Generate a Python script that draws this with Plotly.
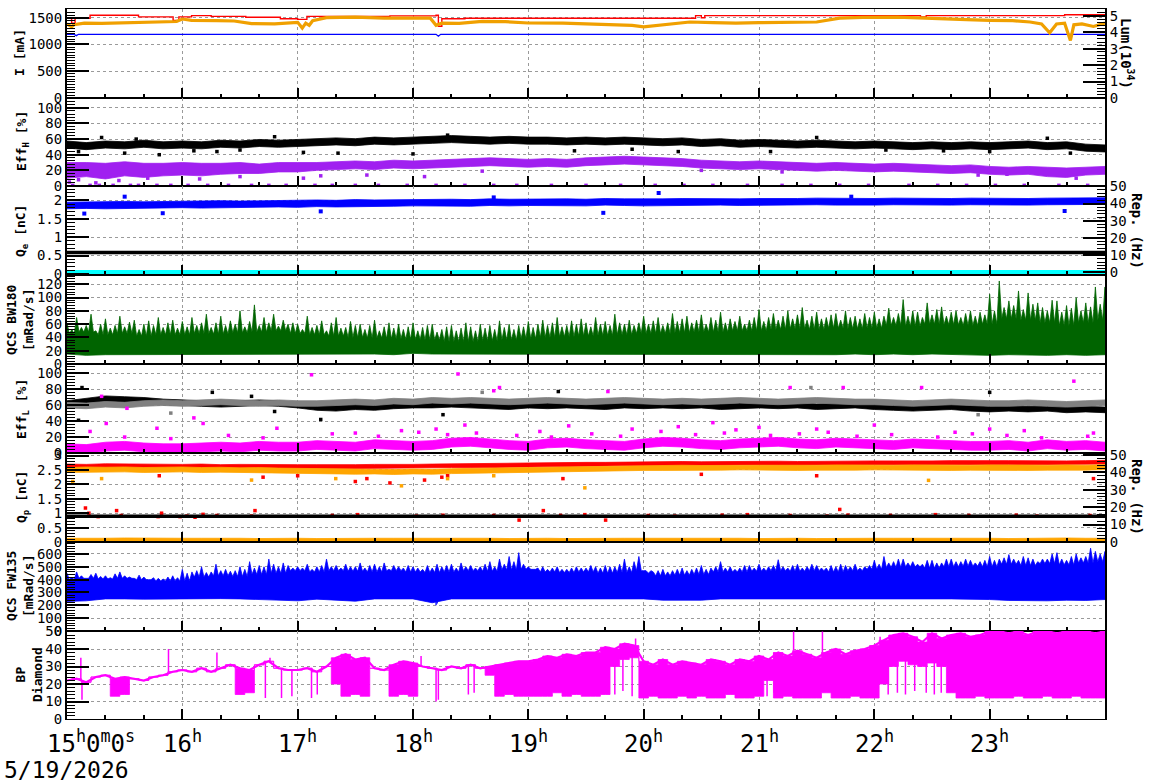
import plotly.graph_objects as go

# ---------------- time grids (hours of 5/19/2026) ----------------
T10 = [15 + i / 6 for i in range(55)]      # 10-minute samples 15:00 .. 24:00
T5 = [15 + j / 12 for j in range(109)]     # 5-minute samples
T25 = [15 + k / 24 for k in range(217)]    # 2.5-minute samples

HOUR_TICKS = [15, 16, 17, 18, 19, 20, 21, 22, 23]
HOUR_LABELS = ["15<sup>h</sup>0<sup>m</sup>0<sup>s</sup>", "16<sup>h</sup>", "17<sup>h</sup>",
               "18<sup>h</sup>", "19<sup>h</sup>", "20<sup>h</sup>", "21<sup>h</sup>",
               "22<sup>h</sup>", "23<sup>h</sup>"]
DATE_LABEL = "5/19/2026"

# ---------------- panel 1 : beam currents [mA] and luminosity ----------------
ler_t = [15.0, 15.04, 15.07, 15.2, 15.62, 15.92, 15.97, 16.08, 16.25, 16.55, 16.85, 17.0, 17.08,
         17.8, 18.2, 18.22, 18.25, 18.45, 20.45, 20.5, 20.53, 22.4, 22.45, 23.65, 24.0]
ler_i = [1495, 1400, 1490, 1545, 1515, 1450, 1515, 1540, 1525, 1510, 1480, 1470, 1525,
         1535, 1545, 1340, 1480, 1490, 1540, 1500, 1540, 1515, 1540, 1555, 1555]
her_t = [15.0, 15.06, 15.08, 15.1, 18.2, 18.22, 18.24, 24.0]
her_i = [1190, 1190, 1165, 1190, 1190, 1155, 1190, 1190]
lum_t = [15.0, 15.04, 15.06, 15.15, 15.3, 15.5, 15.65, 15.8, 15.95, 16.0, 16.08, 16.3, 16.45, 16.6,
         16.8, 17.0, 17.04, 17.07, 17.1, 17.13, 17.25, 17.5, 17.75, 18.0, 18.15, 18.2, 18.25, 18.4,
         18.6, 18.8, 19.0, 19.3, 19.6, 19.9, 20.0, 20.2, 20.4, 20.6, 20.8, 21.0, 21.3, 21.5, 21.7,
         21.9, 22.2, 22.5, 22.8, 23.0, 23.2, 23.35, 23.45, 23.52, 23.58, 23.65, 23.7, 23.73, 23.8,
         23.9, 24.0]
lum_v = [4.5, 4.33, 4.45, 4.55, 4.54, 4.56, 4.62, 4.6, 4.65, 4.8, 4.72, 4.7, 4.68, 4.52,
         4.5, 4.6, 4.25, 4.55, 4.42, 4.7, 4.88, 4.92, 4.85, 4.86, 4.85, 4.42, 4.55, 4.54,
         4.66, 4.64, 4.56, 4.55, 4.47, 4.42, 4.33, 4.46, 4.62, 4.58, 4.55, 4.58, 4.6, 4.62, 4.85,
         4.9, 4.92, 4.82, 4.76, 4.72, 4.7, 4.62, 4.5, 3.96, 4.5, 4.55, 3.5, 4.45, 4.5,
         4.35, 4.55]

# ---------------- panel 2 : Eff_H [%] (10-min centres) ----------------
effh_black = [53, 51, 53, 52, 54, 52, 53,
              52, 54, 53, 55, 54, 55,
              56, 57, 56, 58, 57, 58,
              59, 60, 59, 58, 59, 58,
              58, 57, 58, 57, 58, 57,
              56, 57, 55, 56, 54, 55,
              54, 53, 54, 53, 52, 53,
              52, 51, 52, 51, 52, 51,
              52, 53, 51, 52, 49, 48]
effh_black_hw = 4.5
effh_purple = [20, 21, 19, 22, 20, 21, 22,
               21, 22, 23, 22, 24, 24,
               25, 26, 27, 26, 28, 27,
               28, 29, 30, 31, 30, 29,
               30, 29, 31, 32, 33, 32,
               31, 30, 28, 27, 26, 27,
               26, 25, 24, 25, 24, 23,
               24, 23, 22, 21, 22, 20,
               19, 20, 18, 17, 19, 20]
effh_purple_hw = [10, 9, 10, 9, 9, 8, 8,
                  8, 7, 7, 6, 6, 6,
                  5, 5, 5, 5, 5, 5,
                  5, 5, 5, 5, 5, 5,
                  5, 5, 5, 5, 5, 5,
                  5, 5, 5, 5, 5, 5,
                  5, 5, 5, 5, 5, 5,
                  5, 5, 5, 5, 5, 5,
                  5, 5, 6, 6, 5, 5]
effh_black_out_t = [15.1, 15.3, 15.5, 15.8, 16.1, 16.3, 16.8, 17.05, 17.35, 18.0, 18.3, 19.4,
                    20.3, 21.1, 21.5, 22.6, 23.0, 23.5, 23.7, 15.6, 16.5, 19.9, 22.1]
effh_black_out_v = [44, 62, 42, 40, 45, 44, 63, 43, 42, 41, 65, 45,
                    44, 44, 62, 45, 44, 61, 42, 60, 46, 47, 46]
effh_purple_zero_t = [15.05, 15.2, 15.28, 15.4, 15.55, 15.62, 15.78, 15.9, 16.05, 16.22, 16.4,
                      16.6, 16.75, 16.9, 17.15, 17.3, 17.5, 17.7, 17.95, 18.2, 18.45, 18.7,
                      18.9, 19.2, 19.5, 19.8, 20.1, 20.35, 20.6, 20.9, 21.2, 21.45, 21.7,
                      21.95, 22.3, 22.55, 22.8, 23.05, 23.3, 23.6, 23.85]
effh_purple_out_t = [15.02, 15.1, 15.25, 15.45, 15.7, 16.15, 16.5, 17.05, 17.2, 17.6, 18.1,
                     18.6, 20.5, 21.2, 22.9, 23.15, 23.75]
effh_purple_out_v = [5, 8, 4, 7, 10, 9, 12, 10, 13, 14, 12, 19, 20, 18, 14, 15, 10]

# ---------------- panel 3 : Q_e [nC] and rep. rate ----------------
qe_blue = [1.86, 1.87, 1.86, 1.88, 1.87, 1.88, 1.89,
           1.88, 1.90, 1.89, 1.90, 1.91, 1.90,
           1.92, 1.91, 1.93, 1.92, 1.93, 1.94,
           1.93, 1.94, 1.93, 1.95, 1.94, 1.95,
           1.94, 1.95, 1.94, 1.96, 1.95, 1.94,
           1.95, 1.96, 1.95, 1.96, 1.95, 1.96,
           1.95, 1.96, 1.97, 1.96, 1.95, 1.96,
           1.97, 1.96, 1.97, 1.96, 1.97, 1.96,
           1.97, 1.96, 1.97, 1.98, 1.97, 1.98]
qe_blue_hw = 0.09
qe_out_t = [15.15, 15.83, 17.2, 19.65, 20.13, 23.65, 15.5, 18.7, 21.8]
qe_out_v = [1.64, 1.65, 1.7, 1.66, 2.2, 1.71, 2.1, 2.08, 2.1]
qe_rep_black = 11.5   # Hz
qe_rep_cyan = 0.0     # Hz

# ---------------- panel 4 : QCS BW180 [mRad/s] ----------------
bw_low = [15, 13, 14, 15, 14, 15, 15,
          14, 15, 14, 15, 14, 15,
          15, 14, 15, 15, 14, 16,
          15, 15, 14, 15, 15, 15,
          14, 15, 15, 14, 15, 14,
          15, 15, 14, 15, 14, 15,
          14, 15, 14, 14, 15, 14,
          15, 14, 15, 14, 14, 13,
          14, 14, 13, 14, 13, 14]
bw_core = [45, 48, 44, 46, 42, 44, 44,
           46, 45, 47, 48, 50, 46,
           44, 42, 40, 39, 38, 37,
           36, 34, 34, 35, 36, 38,
           40, 41, 42, 43, 44, 46,
           46, 47, 48, 48, 50, 50,
           52, 53, 52, 54, 53, 54,
           58, 57, 60, 59, 58, 60,
           68, 66, 62, 58, 62, 66]
bw_peak = [62, 52, 70, 55, 58, 75, 50, 60, 68, 54, 58, 72, 56, 63, 66, 52, 60, 65, 58, 70, 55, 62, 66, 54,
           64, 56, 70, 58, 62, 75, 55, 62, 72, 58, 65, 60, 80, 56, 64, 89, 58, 70, 62, 75, 57, 66, 60, 62,
           60, 52, 72, 55, 58, 65, 50, 62, 70, 54, 55, 64, 58, 60, 52, 58, 66, 50, 56, 62, 54, 60, 52, 56,
           62, 50, 55, 58, 60, 48, 52, 56, 58, 50, 54, 62, 56, 50, 60, 54, 58, 52, 65, 55, 60, 52, 58, 56,
           64, 55, 60, 66, 58, 62, 70, 56, 58, 65, 60, 68, 62, 56, 70, 60, 64, 58, 75, 62, 60, 66, 58, 62,
           72, 60, 65, 70, 58, 62, 76, 64, 68, 72, 62, 66, 74, 60, 70, 66, 78, 62, 68, 64, 72, 60, 66, 70,
           82, 64, 70, 76, 66, 72, 80, 68, 74, 85, 66, 72, 78, 68, 70, 74, 76, 66, 80, 70, 72, 68, 76, 70,
           78, 68, 72, 84, 70, 76, 97, 72, 80, 78, 70, 92, 74, 82, 86, 72, 78, 80, 70, 76, 80, 72, 78, 74,
           105, 80, 125, 85, 95, 88, 110, 82, 107, 90, 92, 85, 80, 96, 95, 78, 88, 84, 100, 80, 92, 86,
           116, 90, 116]

# ---------------- panel 5 : Eff_L [%] ----------------
effl_black = [62, 65, 68, 67, 66, 64, 63,
              62, 61, 62, 63, 62, 60,
              57, 56, 58, 57, 59, 60,
              60, 61, 60, 59, 58, 60,
              59, 60, 59, 58, 60, 59,
              60, 59, 60, 58, 59, 60,
              59, 60, 58, 59, 60, 58,
              57, 56, 57, 58, 56, 55,
              56, 55, 56, 54, 55, 54]
effl_gray = [60, 59, 61, 60, 62, 63, 62,
             63, 64, 63, 62, 63, 62,
             62, 63, 64, 63, 65, 64,
             66, 65, 66, 65, 64, 65,
             66, 65, 64, 65, 66, 65,
             64, 65, 64, 65, 66, 65,
             64, 65, 66, 65, 64, 64,
             63, 62, 63, 64, 63, 62,
             62, 63, 62, 61, 62, 63]
effl_hw = 3.5
effl_mag = [6, 5, 8, 9, 7, 6, 6,
            7, 8, 7, 9, 8, 8,
            10, 9, 8, 11, 10, 9,
            10, 13, 14, 12, 10, 9,
            12, 13, 11, 10, 9, 12,
            14, 13, 11, 10, 12, 13,
            14, 12, 11, 13, 12, 11,
            10, 12, 11, 10, 9, 9,
            10, 8, 11, 9, 10, 8]
effl_mag_hw = 5.5
effl_mag_out_t = [15.2, 15.3, 15.34, 15.52, 15.78, 16.1, 16.18, 16.82, 17.12, 17.5, 17.9, 18.2,
                  18.39, 18.45, 18.7, 18.75, 19.1, 19.35, 19.69, 19.9, 20.3, 20.6, 20.8, 21.0,
                  21.27, 21.5, 21.73, 22.0, 22.41, 22.7, 23.0, 23.3, 23.73, 23.9,
                  15.5, 15.9, 16.4, 16.7, 17.3, 17.7, 18.05, 18.3, 18.55, 18.9, 19.2, 19.55,
                  19.8, 20.15, 20.45, 20.7, 21.1, 21.35, 21.6, 21.85, 22.15, 22.55, 22.85,
                  23.15, 23.45, 23.85]
effl_mag_out_v = [27, 71, 37, 56, 31, 44, 37, 31, 98, 25, 28, 30,
                  99, 35, 78, 82, 27, 34, 77, 30, 33, 38, 29, 32,
                  82, 30, 82, 35, 82, 26, 30, 28, 90, 25,
                  20, 18, 22, 19, 24, 21, 26, 23, 25, 22, 20, 24,
                  21, 27, 23, 25, 22, 24, 26, 21, 23, 20, 24,
                  22, 19, 21]
effl_black_out_t = [15.13, 15.1, 16.26, 16.6, 16.8, 17.2, 18.26, 19.26, 23.0]
effl_black_out_v = [82, 41, 76, 71, 52, 42, 48, 77, 76]
effl_gray_out_t = [18.6, 21.45, 22.9, 15.9]
effl_gray_out_v = [76, 82, 48, 50]

# ---------------- panel 6 : Q_p [nC] and rep. rate ----------------
qp_red = [2.64, 2.63, 2.65, 2.64, 2.63, 2.64, 2.63,
          2.64, 2.62, 2.63, 2.62, 2.63, 2.62,
          2.62, 2.61, 2.62, 2.63, 2.62, 2.63,
          2.64, 2.65, 2.64, 2.66, 2.67, 2.68,
          2.68, 2.69, 2.70, 2.70, 2.71, 2.72,
          2.72, 2.73, 2.72, 2.73, 2.74, 2.73,
          2.74, 2.73, 2.74, 2.75, 2.74, 2.75,
          2.75, 2.74, 2.75, 2.76, 2.75, 2.76,
          2.76, 2.75, 2.76, 2.75, 2.76, 2.77]
qp_orange = [2.50, 2.52, 2.51, 2.52, 2.50, 2.51, 2.52,
             2.50, 2.51, 2.49, 2.50, 2.48, 2.47,
             2.46, 2.45, 2.44, 2.45, 2.43, 2.45,
             2.44, 2.46, 2.47, 2.48, 2.50, 2.52,
             2.53, 2.54, 2.53, 2.55, 2.56, 2.57,
             2.57, 2.58, 2.57, 2.58, 2.59, 2.58,
             2.58, 2.57, 2.58, 2.59, 2.58, 2.59,
             2.58, 2.59, 2.58, 2.57, 2.58, 2.59,
             2.58, 2.57, 2.58, 2.59, 2.58, 2.60]
qp_red_hw = 0.065
qp_orange_hw = 0.085
qp_orange_low = [0.08, 0.07, 0.08, 0.09, 0.08, 0.07, 0.08,
                 0.08, 0.09, 0.08, 0.07, 0.08, 0.08,
                 0.07, 0.08, 0.09, 0.08, 0.08, 0.07,
                 0.08, 0.08, 0.09, 0.08, 0.07, 0.08,
                 0.08, 0.07, 0.08, 0.09, 0.08, 0.08,
                 0.07, 0.08, 0.08, 0.09, 0.08, 0.07,
                 0.08, 0.08, 0.07, 0.08, 0.09, 0.08,
                 0.08, 0.07, 0.08, 0.08, 0.09, 0.08,
                 0.07, 0.08, 0.08, 0.09, 0.08, 0.08]
qp_orange_low_hw = 0.05
qp_red_out_t = [15.16, 15.19, 15.43, 15.27, 15.47, 15.79, 15.82, 15.98, 16.04, 16.11, 16.18, 16.3,
                16.63, 16.6, 17.3, 17.52, 18.03, 18.26, 18.7, 18.92, 19.13, 19.28, 19.49, 19.67,
                20.04, 20.27, 20.68, 20.9, 21.27, 21.59, 21.7, 21.77, 22.14, 22.53, 22.82, 23.23,
                23.41, 23.87,
                17.5, 17.6, 17.8, 18.1, 18.25, 18.3, 17.0, 16.7, 15.8, 19.3, 20.5, 21.5, 23.9]
qp_red_out_v = [1.18, 1.0, 1.09, 0.88, 0.92, 0.88, 1.0, 0.88, 0.9, 0.86, 0.96, 0.92,
                1.09, 0.9, 0.92, 0.95, 0.9, 0.93, 0.92, 0.76, 1.09, 0.92, 0.95, 0.76,
                0.92, 0.9, 0.93, 0.95, 0.92, 0.9, 1.13, 0.93, 0.92, 0.95, 0.92, 0.93,
                0.9, 0.92,
                2.1, 2.2, 2.05, 2.15, 2.25, 2.3, 2.3, 2.25, 2.3, 2.2, 2.35, 2.3, 2.2]
qp_orange_out_t = [15.05, 15.3, 16.6, 17.33, 17.9, 18.3, 18.7, 19.49, 22.47]
qp_orange_out_v = [2.1, 2.2, 2.15, 2.2, 1.95, 2.2, 2.3, 1.88, 2.14]
qp_rep_black = 14.8   # Hz

# ---------------- panel 7 : QCS FW135 [mRad/s] ----------------
fw_low = [230, 235, 250, 250, 248, 245, 250,
          250, 252, 250, 248, 240, 235,
          248, 240, 232, 250, 250, 250,
          220, 250, 250, 250, 250, 250,
          250, 250, 250, 250, 250, 250,
          240, 238, 240, 250, 250, 250,
          250, 250, 248, 250, 250, 250,
          250, 250, 250, 250, 250, 245,
          238, 235, 235, 240, 238, 245]
fw_core = [400, 410, 405, 410, 400, 390, 390,
           420, 430, 425, 440, 450, 470,
           460, 470, 465, 460, 470, 460,
           455, 460, 470, 465, 475, 480,
           460, 455, 460, 450, 455, 470,
           430, 435, 440, 460, 460, 465,
           470, 465, 470, 460, 470, 480,
           495, 500, 490, 500, 505, 500,
           520, 510, 525, 515, 530, 540]
fw_peak = [450, 420, 460, 430, 410, 440, 450, 425, 430, 415, 445, 460, 430, 420, 410, 435, 420, 400, 415, 410, 405, 420, 430, 415,
           480, 450, 460, 470, 500, 455, 460, 520, 470, 480, 465, 470, 500, 480, 540, 490, 510, 500, 560, 520, 500, 530, 510, 490,
           500, 490, 520, 480, 500, 510, 560, 500, 510, 490, 520, 500, 500, 530, 490, 510, 520, 500, 530, 480, 510, 500, 490, 510,
           500, 490, 480, 510, 490, 520, 500, 510, 520, 490, 530, 500, 510, 490, 500, 520, 540, 500, 560, 520, 580, 540, 610, 520,
           500, 480, 490, 500, 480, 490, 500, 480, 480, 490, 500, 490, 490, 510, 500, 490, 510, 500, 500, 520, 560, 500, 540, 580,
           470, 450, 460, 470, 480, 460, 470, 480, 490, 470, 480, 490, 510, 480, 490, 500, 540, 490, 500, 480, 490, 510, 510, 490,
           520, 490, 500, 510, 555, 500, 490, 510, 520, 490, 500, 520, 510, 490, 490, 510, 500, 520, 510, 500, 520, 490, 500, 510,
           550, 520, 580, 530, 540, 560, 560, 530, 540, 520, 520, 550, 550, 530, 530, 560, 560, 540, 540, 560, 550, 530, 540, 550,
           580, 550, 560, 570, 595, 560, 550, 580, 570, 560, 540, 560, 560, 600, 610, 560, 550, 580, 600, 570, 580, 645,
           620, 600, 620]
fw_dip_t = [18.2, 18.21]
fw_dip_v = [200, 215]

# ---------------- panel 8 : BP Diamond (5-min upper trace and lower edge) ----------------
bp_top = [22, 23, 21, 24, 25, 23, 24, 23, 22, 24, 25, 27,
          28, 27, 29, 27, 29, 31, 29, 28, 31, 33, 29, 28,
          28, 29, 27, 30, 35, 37, 34, 35, 29, 28, 31, 33,
          32, 30, 29, 28, 30, 29, 31, 29, 30, 31, 32, 33,
          33, 34, 36, 35, 37, 36, 38, 38, 41, 40, 43, 42,
          33, 31, 34, 31, 33, 32, 31, 34, 33, 31, 34, 33,
          36, 34, 38, 36, 39, 37, 35, 38, 40, 37, 39, 40,
          42, 45, 48, 49, 47, 44, 49, 46, 48, 49, 47, 48,
          50, 50, 49, 50, 48, 50, 50, 49, 50, 50, 50, 49, 50]
bp_low = [22, 23, 21, 24, 25, 13, 14, 23, 22, 24, 25, 27,
          28, 27, 29, 27, 29, 31, 14, 15, 31, 33, 29, 28,
          28, 29, 27, 30, 20, 13, 14, 13, 29, 28, 13, 14,
          13, 30, 29, 28, 30, 29, 31, 29, 25, 13, 14, 13,
          13, 13, 13, 15, 13, 14, 13, 13, 14, 30, 34, 35,
          12, 13, 12, 12, 13, 12, 13, 12, 12, 14, 12, 12,
          13, 22, 12, 13, 12, 12, 12, 15, 12, 12, 13, 12,
          12, 20, 30, 33, 31, 30, 32, 30, 15, 12, 12, 13,
          12, 12, 12, 13, 12, 12, 13, 12, 12, 13, 12, 12, 12]
bp_dip_t = [15.13, 16.72, 16.86, 16.95, 17.12, 17.17, 18.2, 18.22, 18.48, 18.53, 19.75, 19.82,
            19.9, 21.07, 21.13, 22.12, 22.2, 22.27, 22.35, 22.45, 22.52, 22.58]
bp_dip_v = [11, 12, 12, 13, 12, 14, 10, 11, 14, 15, 14, 16, 13, 13, 15, 14, 15, 14, 16, 15, 14, 15]
bp_up_t = [15.12, 15.88, 16.3, 16.76, 17.45, 18.07, 19.93, 21.3, 21.55, 22.05]
bp_up_v = [35, 40, 38, 35, 37, 36, 46, 50, 50, 47]

# ---------------- styling ----------------
FONT = "DejaVu Sans Mono"
C_RED, C_LUM, C_BLUE = "#ff0000", "#f0a000", "#0000ff"
C_PURPLE, C_CYAN, C_GREEN = "#a020f0", "#00ffff", "#006400"
C_GRAY, C_MAG, C_ORANGE = "#808080", "#ff00ff", "#ffa500"

# panel edges in pixels (whole pixels keep the frame lines crisp)
EDGES = [9, 98, 186, 275, 364, 453, 542, 631, 719]
PLOT_TOP, PLOT_BOT, PLOT_L, PLOT_R = 9, 719, 67, 1105


def px_x(px):
    return (px - PLOT_L) / (PLOT_R - PLOT_L)


def px_y(py):
    return round((PLOT_BOT - py) / (PLOT_BOT - PLOT_TOP), 9)


fig = go.Figure()


def ax(k):
    return ("x" if k == 1 else f"x{k}"), ("y" if k == 1 else f"y{k}")


def add(k, trace, yname=None):
    xa, ya = ax(k)
    trace.update(xaxis=xa, yaxis=yname or ya, showlegend=False, hoverinfo="skip")
    fig.add_trace(trace)


def band(k, t, c, hw, color, yname=None):
    if not isinstance(hw, list):
        hw = [hw] * len(c)
    up = [a + b for a, b in zip(c, hw)]
    dn = [a - b for a, b in zip(c, hw)]
    add(k, go.Scatter(x=list(t) + list(t)[::-1], y=up + dn[::-1], mode="lines", fill="toself",
                      fillcolor=color, line=dict(width=0.8, color=color)), yname)


def fillpoly(k, tx_hi, hi, tx_lo, lo, color, shape="linear"):
    add(k, go.Scatter(x=list(tx_hi) + list(tx_lo)[::-1], y=list(hi) + list(lo)[::-1], mode="lines",
                      fill="toself", fillcolor=color, line=dict(width=0.8, color=color, shape=shape)))


def nearest(grid, t):
    return min(range(len(grid)), key=lambda i: abs(grid[i] - t))


def spiky_top(tp, peaks, core):
    """top edge: peaks joined through the 10-min core level between them"""
    xs, ys = [], []
    for j in range(len(tp)):
        xs.append(tp[j])
        ys.append(peaks[j])
        if j < len(tp) - 1:
            tm = (tp[j] + tp[j + 1]) / 2
            xs.append(tm)
            ys.append(core[nearest(T10, tm)])
    return xs, ys


def spikes(k, t, base, peak, color, width=1.3):
    xs, ys = [], []
    for i, (ti, p) in enumerate(zip(t, peak)):
        b = base[i] if isinstance(base, list) else base
        xs += [ti, ti, None]
        ys += [b, p, None]
    add(k, go.Scatter(x=xs, y=ys, mode="lines", line=dict(color=color, width=width)))


def dots(k, t, v, color, size=3.5, yname=None):
    add(k, go.Scatter(x=t, y=v, mode="markers",
                      marker=dict(symbol="square", size=size, color=color, line=dict(width=0))), yname)


# panel 1
add(1, go.Scatter(x=her_t, y=her_i, mode="lines", line=dict(color=C_BLUE, width=1.3)))
add(1, go.Scatter(x=lum_t, y=lum_v, mode="lines", line=dict(color=C_LUM, width=3.2)), "y9")
add(1, go.Scatter(x=ler_t, y=ler_i, mode="lines", line=dict(color=C_RED, width=1.4, shape="hv")))

# panel 2
band(2, T10, effh_black, effh_black_hw, "#000000")
dots(2, effh_black_out_t, effh_black_out_v, "#000000")
band(2, T10, effh_purple, effh_purple_hw, C_PURPLE)
dots(2, effh_purple_out_t, effh_purple_out_v, C_PURPLE)
dots(2, effh_purple_zero_t, [0.8] * len(effh_purple_zero_t), C_PURPLE)

# panel 3
band(3, T10, qe_blue, qe_blue_hw, C_BLUE)
dots(3, qe_out_t, qe_out_v, C_BLUE, size=4)
add(3, go.Scatter(x=[15, 24], y=[qe_rep_black, qe_rep_black], mode="lines",
                  line=dict(color="#000000", width=3.5)), "y10")
add(3, go.Scatter(x=[15, 24], y=[qe_rep_cyan, qe_rep_cyan], mode="lines",
                  line=dict(color=C_CYAN, width=5)), "y10")

# panel 4
bx, by = spiky_top(T25, bw_peak, bw_core)
fillpoly(4, bx, by, T10, bw_low, C_GREEN)

# panel 5
band(5, T10, effl_black, effl_hw, "#000000")
dots(5, effl_black_out_t, effl_black_out_v, "#000000")
band(5, T10, effl_gray, effl_hw, C_GRAY)
dots(5, effl_gray_out_t, effl_gray_out_v, C_GRAY)
band(5, T10, effl_mag, effl_mag_hw, C_MAG)
dots(5, effl_mag_out_t, effl_mag_out_v, C_MAG)

# panel 6
add(6, go.Scatter(x=[15, 24], y=[qp_rep_black, qp_rep_black], mode="lines",
                  line=dict(color="#000000", width=3.5)), "y11")
band(6, T10, qp_red, qp_red_hw, C_RED)
band(6, T10, qp_orange, qp_orange_hw, C_ORANGE)
band(6, T10, qp_orange_low, qp_orange_low_hw, C_ORANGE)
dots(6, qp_red_out_t, qp_red_out_v, C_RED)
dots(6, qp_orange_out_t, qp_orange_out_v, C_ORANGE)

# panel 7
fx, fy = spiky_top(T25, fw_peak, fw_core)
fillpoly(7, fx, fy, T10, fw_low, C_BLUE)
spikes(7, fw_dip_t, 300, fw_dip_v, C_BLUE)

# panel 8
fillpoly(8, T5, bp_top, T5, bp_low, C_MAG, shape="hvh")
add(8, go.Scatter(x=T5, y=bp_top, mode="lines", line=dict(color=C_MAG, width=2.2)))
spikes(8, bp_dip_t, [bp_top[nearest(T5, t)] for t in bp_dip_t], bp_dip_v, C_MAG, width=1.5)
spikes(8, bp_up_t, [bp_top[nearest(T5, t)] for t in bp_up_t], bp_up_v, C_MAG, width=1.5)

# ---------------- axes ----------------
GRID = dict(showgrid=True, gridcolor="#9a9a9a", gridwidth=1, griddash="3px,3px")
TICKFONT = dict(family=FONT, size=14, color="#000000")

yspec = {
    1: dict(range=[0, 1663], dtick=500, minor=50),
    2: dict(range=[0, 112.5], dtick=20, minor=4),
    3: dict(range=[-0.03, 2.39], dtick=0.5, minor=0.1),
    4: dict(range=[0, 134], dtick=20, minor=4),
    5: dict(range=[0, 111.5], dtick=20, minor=4),
    6: dict(range=[0, 3.09], dtick=0.5, minor=0.1),
    7: dict(range=[0, 693], dtick=100, minor=20),
    8: dict(range=[0, 50.3], dtick=10, minor=2),
}
has_right = {1: "yaxis9", 3: "yaxis10", 6: "yaxis11"}

layout = dict(width=1172, height=782,
              margin=dict(l=67, r=67, t=9, b=63, pad=0, autoexpand=False),
              paper_bgcolor="white", plot_bgcolor="white", showlegend=False,
              font=dict(family=FONT, color="#000000"))

for k in range(1, 9):
    dom = [px_y(EDGES[k]), px_y(EDGES[k - 1])]
    xa = "xaxis" if k == 1 else f"xaxis{k}"
    ya = "yaxis" if k == 1 else f"yaxis{k}"
    layout[xa] = dict(domain=[0, 1], anchor=ax(k)[1], range=[15, 24], tick0=15, dtick=1,
                      ticks="inside", ticklen=10, tickwidth=2, tickcolor="#000000",
                      showticklabels=False, showline=True, linewidth=1, linecolor="#000000",
                      mirror=True, zeroline=False, automargin=False,
                      minor=dict(ticks="inside", ticklen=4, tickwidth=1.5, tick0=15, dtick=1 / 3,
                                 tickcolor="#000000", showgrid=False),
                      **GRID)
    if k > 1:
        layout[xa]["matches"] = "x"
    sp = yspec[k]
    layout[ya] = dict(domain=dom, anchor=ax(k)[0], range=sp["range"], tick0=0, dtick=sp["dtick"],
                      ticks="inside", ticklen=22, tickwidth=2, tickcolor="#000000",
                      tickfont=TICKFONT, showline=True, linewidth=2, linecolor="#000000",
                      mirror=(k not in has_right), zeroline=False, automargin=False,
                      minor=dict(ticks="inside", ticklen=8, tickwidth=1.2, dtick=sp["minor"],
                                 tick0=0, tickcolor="#000000", showgrid=False),
                      **GRID)

right_spec = {
    "yaxis9": dict(over="y", anc="x", range=[0, 5.41], dtick=1, minor=0.2),
    "yaxis10": dict(over="y3", anc="x3", range=[-1.5, 50.2], dtick=10, minor=2),
    "yaxis11": dict(over="y6", anc="x6", range=[0, 51], dtick=10, minor=2),
}
for name, r in right_spec.items():
    layout[name] = dict(overlaying=r["over"], anchor=r["anc"], side="right", range=r["range"],
                        tick0=0, dtick=r["dtick"], ticks="inside", ticklen=22, tickwidth=2,
                        tickcolor="#000000", tickfont=TICKFONT, showline=True, linewidth=2,
                        linecolor="#000000", showgrid=False, zeroline=False, automargin=False,
                        minor=dict(ticks="inside", ticklen=8, tickwidth=1.2, dtick=r["minor"],
                                   tick0=0, tickcolor="#000000", showgrid=False))

fig.update_layout(**layout)

# ---------------- annotations ----------------
ann = []
left_titles = [
    ("<b>I [mA]</b>", 19, 53),
    ("<b>Eff<sub>H</sub> [%]</b>", 22, 141),
    ("<b>Q<sub>e</sub> [nC]</b>", 22, 231),
    ("<b>QCS BW180<br>[mRad/s]</b>", 20, 320),
    ("<b>Eff<sub>L</sub> [%]</b>", 22, 409),
    ("<b>Q<sub>p</sub> [nC]</b>", 22, 497),
    ("<b>QCS FW135<br>[mRad/s]</b>", 20, 586),
    ("<b>BP<br>Diamond</b>", 29, 675),
]
for txt, x, y in left_titles:
    ann.append(dict(text=txt, x=px_x(x), y=px_y(y), xref="paper", yref="paper", showarrow=False,
                    textangle=-90, xanchor="center", yanchor="middle",
                    font=dict(family=FONT, size=13, color="#000000")))
right_titles = [
    ("<b>Lum(10<sup>34</sup>)</b>", 1127, 53),
    ("<b>Rep. (Hz)</b>", 1137, 231),
    ("<b>Rep. (Hz)</b>", 1137, 497),
]
for txt, x, y in right_titles:
    ann.append(dict(text=txt, x=px_x(x), y=px_y(y), xref="paper", yref="paper", showarrow=False,
                    textangle=90, xanchor="center", yanchor="middle",
                    font=dict(family=FONT, size=14, color="#000000")))
for h, lab in zip(HOUR_TICKS, HOUR_LABELS):
    a = dict(text=lab, x=h, y=px_y(724), xref="x8", yref="paper", showarrow=False,
             xanchor="center", yanchor="top", font=dict(family=FONT, size=24, color="#000000"))
    if h == 15:
        a.update(xanchor="left", xshift=-22)
    ann.append(a)
ann.append(dict(text=DATE_LABEL, x=px_x(2), y=px_y(755), xref="paper", yref="paper",
                showarrow=False, xanchor="left", yanchor="top",
                font=dict(family=FONT, size=23, color="#000000")))
fig.update_layout(annotations=ann)

fig.write_html("out.html")
